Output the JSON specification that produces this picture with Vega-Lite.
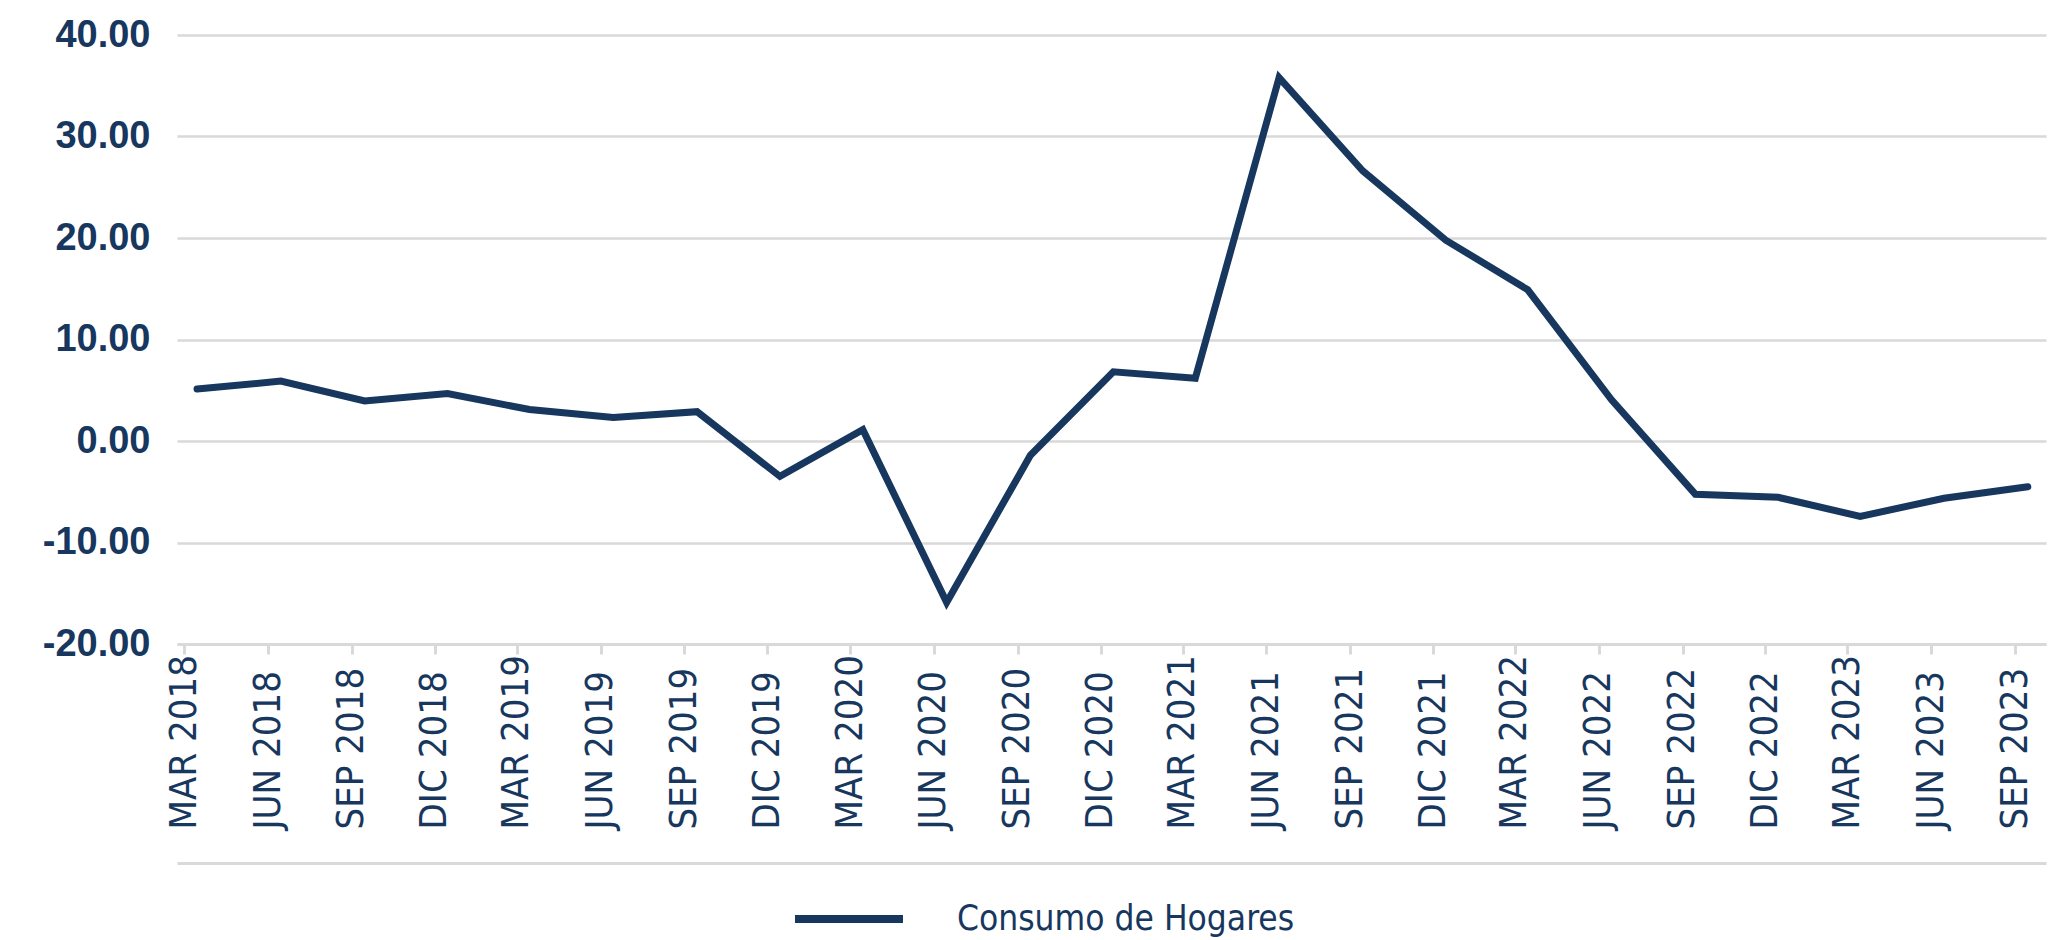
{
  "$schema": "https://vega.github.io/schema/vega-lite/v6.json",
  "width": 1869,
  "height": 609,
  "autosize": {"type": "none"},
  "padding": {"left": 177, "top": 35, "right": 8, "bottom": 296},
  "background": "white",
  "config": {"view": {"stroke": null}},
  "data": {
    "values": [
      {"fecha": "2018-03-15", "valor": 5.12, "serie": "Consumo de Hogares"},
      {"fecha": "2018-06-15", "valor": 5.90, "serie": "Consumo de Hogares"},
      {"fecha": "2018-09-15", "valor": 3.94, "serie": "Consumo de Hogares"},
      {"fecha": "2018-12-15", "valor": 4.68, "serie": "Consumo de Hogares"},
      {"fecha": "2019-03-15", "valor": 3.10, "serie": "Consumo de Hogares"},
      {"fecha": "2019-06-15", "valor": 2.32, "serie": "Consumo de Hogares"},
      {"fecha": "2019-09-15", "valor": 2.89, "serie": "Consumo de Hogares"},
      {"fecha": "2019-12-15", "valor": -3.49, "serie": "Consumo de Hogares"},
      {"fecha": "2020-03-15", "valor": 1.11, "serie": "Consumo de Hogares"},
      {"fecha": "2020-06-15", "valor": -15.9, "serie": "Consumo de Hogares"},
      {"fecha": "2020-09-15", "valor": -1.40, "serie": "Consumo de Hogares"},
      {"fecha": "2020-12-15", "valor": 6.81, "serie": "Consumo de Hogares"},
      {"fecha": "2021-03-15", "valor": 6.19, "serie": "Consumo de Hogares"},
      {"fecha": "2021-06-15", "valor": 35.8, "serie": "Consumo de Hogares"},
      {"fecha": "2021-09-15", "valor": 26.6, "serie": "Consumo de Hogares"},
      {"fecha": "2021-12-15", "valor": 19.79, "serie": "Consumo de Hogares"},
      {"fecha": "2022-03-15", "valor": 14.9, "serie": "Consumo de Hogares"},
      {"fecha": "2022-06-15", "valor": 4.06, "serie": "Consumo de Hogares"},
      {"fecha": "2022-09-15", "valor": -5.24, "serie": "Consumo de Hogares"},
      {"fecha": "2022-12-15", "valor": -5.55, "serie": "Consumo de Hogares"},
      {"fecha": "2023-03-15", "valor": -7.43, "serie": "Consumo de Hogares"},
      {"fecha": "2023-06-15", "valor": -5.64, "serie": "Consumo de Hogares"},
      {"fecha": "2023-09-15", "valor": -4.50, "serie": "Consumo de Hogares"}
    ]
  },
  "layer": [
    {
      "mark": {"type": "line", "strokeWidth": 7, "strokeCap": "round", "strokeJoin": "miter"},
      "encoding": {
        "x": {
          "field": "fecha",
          "type": "temporal",
          "scale": {
            "type": "utc",
            "domain": [
              {"year": 2018, "month": 2, "date": 21, "utc": true},
              {"year": 2023, "month": 10, "date": 5, "utc": true}
            ]
          },
          "axis": {
            "values": [
              {"year": 2018, "month": 3, "date": 1, "utc": true},
              {"year": 2018, "month": 6, "date": 1, "utc": true},
              {"year": 2018, "month": 9, "date": 1, "utc": true},
              {"year": 2018, "month": 12, "date": 1, "utc": true},
              {"year": 2019, "month": 3, "date": 1, "utc": true},
              {"year": 2019, "month": 6, "date": 1, "utc": true},
              {"year": 2019, "month": 9, "date": 1, "utc": true},
              {"year": 2019, "month": 12, "date": 1, "utc": true},
              {"year": 2020, "month": 3, "date": 1, "utc": true},
              {"year": 2020, "month": 6, "date": 1, "utc": true},
              {"year": 2020, "month": 9, "date": 1, "utc": true},
              {"year": 2020, "month": 12, "date": 1, "utc": true},
              {"year": 2021, "month": 3, "date": 1, "utc": true},
              {"year": 2021, "month": 6, "date": 1, "utc": true},
              {"year": 2021, "month": 9, "date": 1, "utc": true},
              {"year": 2021, "month": 12, "date": 1, "utc": true},
              {"year": 2022, "month": 3, "date": 1, "utc": true},
              {"year": 2022, "month": 6, "date": 1, "utc": true},
              {"year": 2022, "month": 9, "date": 1, "utc": true},
              {"year": 2022, "month": 12, "date": 1, "utc": true},
              {"year": 2023, "month": 3, "date": 1, "utc": true},
              {"year": 2023, "month": 6, "date": 1, "utc": true},
              {"year": 2023, "month": 9, "date": 1, "utc": true}
            ],
            "labelExpr": "['ENE','FEB','MAR','ABR','MAY','JUN','JUL','AGO','SEP','OCT','NOV','DIC'][utcmonth(datum.value)] + ' ' + utcyear(datum.value)",
            "title": null,
            "grid": false,
            "domainColor": "#D9D9D9",
            "domainWidth": 3,
            "tickColor": "#D9D9D9",
            "tickWidth": 3,
            "tickSize": 10,
            "labelAngle": 270,
            "labelAlign": "left",
            "labelBaseline": "middle",
            "labelPadding": 175,
            "labelFont": "Liberation Sans Narrow, DejaVu Sans Condensed, sans-serif",
            "labelFontSize": 38,
            "labelColor": "#17375E",
            "labelOverlap": false,
            "labelFlush": false
          }
        },
        "y": {
          "field": "valor",
          "type": "quantitative",
          "scale": {"domain": [-20, 40], "nice": false, "zero": false},
          "axis": {
            "values": [-20, -10, 0, 10, 20, 30, 40],
            "labelExpr": "(datum.value < 0 ? '-' : '') + format(abs(datum.value), '.2f')",
            "title": null,
            "domain": false,
            "ticks": false,
            "gridColor": "#D9D9D9",
            "gridWidth": 2.5,
            "labelFont": "Liberation Sans, Arial, sans-serif",
            "labelFontSize": 38,
            "labelFontWeight": "bold",
            "labelColor": "#17375E",
            "labelPadding": 27
          }
        },
        "color": {
          "field": "serie",
          "type": "nominal",
          "scale": {"range": ["#17375E"]},
          "legend": {
            "orient": "none",
            "legendX": 614,
            "legendY": 826,
            "title": null,
            "direction": "horizontal",
            "padding": 0,
            "symbolType": "stroke",
            "symbolSize": 11664,
            "symbolStrokeWidth": 8,
            "labelFont": "Liberation Sans Narrow, DejaVu Sans Condensed, sans-serif",
            "labelFontSize": 35,
            "labelColor": "#17375E",
            "labelOffset": 50,
            "labelLimit": 0
          }
        }
      }
    },
    {
      "mark": {"type": "point", "opacity": 0},
      "encoding": {
        "x": {
          "field": "fecha",
          "type": "temporal",
          "scale": {
            "type": "utc",
            "domain": [
              {"year": 2018, "month": 2, "date": 21, "utc": true},
              {"year": 2023, "month": 10, "date": 5, "utc": true}
            ]
          },
          "axis": {
            "orient": "bottom",
            "offset": 219,
            "domainColor": "#D9D9D9",
            "domainWidth": 3,
            "labels": false,
            "ticks": false,
            "grid": false,
            "title": null
          }
        },
        "y": {"field": "valor", "type": "quantitative"}
      }
    }
  ],
  "resolve": {"axis": {"x": "independent"}}
}
